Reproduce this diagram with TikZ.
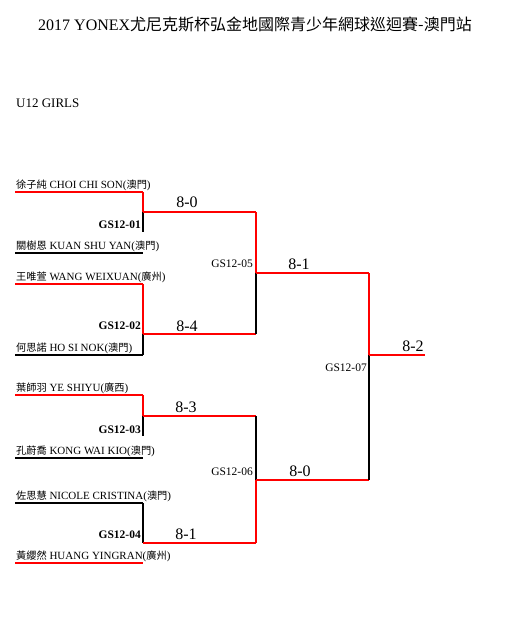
\documentclass[tikz,border=0pt]{standalone}
\usepackage{fontspec}
\setmainfont{Liberation Serif}
\newfontfamily\cjk{Noto Sans CJK TC}
\newcommand{\zhs}[1]{{\cjk\fontsize{10.2}{12}\selectfont #1}}
\begin{document}
\begin{tikzpicture}[x=1pt,y=-1pt,
  win/.style={draw=red, line width=1.6pt},
  lose/.style={draw=black, line width=1.6pt},
  pname/.style={anchor=base west, inner sep=0pt, font=\fontsize{11}{13}\selectfont},
  rcode/.style={anchor=east, inner sep=0pt, font=\bfseries\fontsize{11.5}{13}\selectfont},
  scode/.style={anchor=east, inner sep=0pt, font=\fontsize{11.5}{13}\selectfont},
  score/.style={inner sep=0pt, font=\fontsize{16}{18}\selectfont}]
\useasboundingbox[fill=white] (0,0) rectangle (512,635);

% title
\node[inner sep=0pt, font=\fontsize{16}{19}\selectfont] (title) at (255,24)
  {2017 YONEX{\cjk 尤尼克斯杯弘金地國際青少年網球巡迴賽-澳門站}};
\node[anchor=west, inner sep=0pt, font=\fontsize{13}{15}\selectfont] (cat) at (16,103) {U12 GIRLS};

% player coordinates
\foreach \i/\y in {1/192,2/253,3/284,4/355,5/395,6/458,7/503,8/563}{
  \coordinate (p\i a) at (15,\y);
  \coordinate (p\i b) at (143,\y);
}
% player names
\node[pname] (n1) at (16,188.5) {\zhs{徐子純} CHOI CHI SON(\zhs{澳門})};
\node[pname] (n2) at (16,249) {\zhs{關樹恩} KUAN SHU YAN(\zhs{澳門})};
\node[pname] (n3) at (16,280.5) {\zhs{王唯萱} WANG WEIXUAN(\zhs{廣州})};
\node[pname] (n4) at (16,351) {\zhs{何思諾} HO SI NOK(\zhs{澳門})};
\node[pname] (n5) at (16,391.5) {\zhs{葉師羽} YE SHIYU(\zhs{廣西})};
\node[pname] (n6) at (16,454.5) {\zhs{孔蔚喬} KONG WAI KIO(\zhs{澳門})};
\node[pname] (n7) at (16,499) {\zhs{佐思慧} NICOLE CRISTINA(\zhs{澳門})};
\node[pname] (n8) at (16,559.5) {\zhs{黃纓然} HUANG YINGRAN(\zhs{廣州})};

\draw[win]  (p1a) -- (p1b);
\draw[lose] (p2a) -- (p2b);
\draw[win]  (p3a) -- (p3b);
\draw[lose] (p4a) -- (p4b);
\draw[win]  (p5a) -- (p5b);
\draw[lose] (p6a) -- (p6b);
\draw[lose] (p7a) -- (p7b);
\draw[win]  (p8a) -- (p8b);

% match coordinates
\coordinate (m1) at (143,212);  \coordinate (m1e) at (143,232);
\coordinate (m2) at (143,334);
\coordinate (m3) at (143,416);  \coordinate (m3e) at (143,436);
\coordinate (m4) at (143,543);
\coordinate (m5t) at (256,212); \coordinate (m5) at (256,273); \coordinate (m5b) at (256,334);
\coordinate (m6t) at (256,416); \coordinate (m6) at (256,480); \coordinate (m6b) at (256,543);
\coordinate (m7t) at (369,273); \coordinate (m7) at (369,355); \coordinate (m7b) at (369,480);
\coordinate (fin) at (425,355);

% round 1
\draw[win]  (p1b) -- (m1);
\draw[lose] (m1) -- (m1e);
\draw[win]  (m1) -- (m5t);
\draw[win]  (p3b) -- (m2);
\draw[lose] (m2) -- (p4b);
\draw[win]  (m2) -- (m5b);
\draw[win]  (p5b) -- (m3);
\draw[lose] (m3) -- (m3e);
\draw[win]  (m3) -- (m6t);
\draw[lose] (p7b) -- (m4);
\draw[win]  (m4) -- (m6b);
% round 2
\draw[win]  (m5t) -- (m5);
\draw[lose] (m5) -- (m5b);
\draw[win]  (m5) -- (m7t);
\draw[lose] (m6t) -- (m6);
\draw[win]  (m6) -- (m6b);
\draw[win]  (m6) -- (m7b);
% final
\draw[win]  (m7t) -- (m7);
\draw[lose] (m7) -- (m7b);
\draw[win]  (m7) -- (fin);

% match codes
\node[rcode] (c1) at (141,225) {GS12-01};
\node[rcode] (c2) at (141,326) {GS12-02};
\node[rcode] (c3) at (141,430) {GS12-03};
\node[rcode] (c4) at (141,535) {GS12-04};
\node[scode] (c5) at (253,264) {GS12-05};
\node[scode] (c6) at (253,472) {GS12-06};
\node[scode] (c7) at (367,368) {GS12-07};

% scores
\node[score] (s1) at (187,202.5) {8-0};
\node[score] (s2) at (187,326) {8-4};
\node[score] (s3) at (186,407.5) {8-3};
\node[score] (s4) at (186,534) {8-1};
\node[score] (s5) at (299,264) {8-1};
\node[score] (s6) at (300,471) {8-0};
\node[score] (s7) at (413,346.5) {8-2};
\end{tikzpicture}
\end{document}
